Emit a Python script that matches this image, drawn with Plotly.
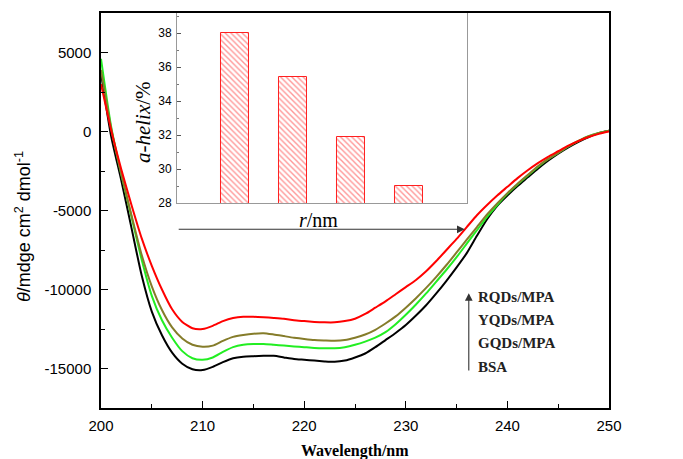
import plotly.graph_objects as go

# ---------------- data ----------------
wavelength = list(range(200, 251))

bsa = [3700, -300, -3100, -6100, -9100, -11400, -12900, -14000, -14700, -15050,
       -15100, -14900, -14600, -14350, -14250, -14220, -14200, -14200, -14300, -14400,
       -14450, -14500, -14550, -14580, -14500, -14300, -14050, -13650, -13200, -12750,
       -12250, -11650, -11000, -10250, -9450, -8600, -7700, -6600, -5550, -4700,
       -4050, -3450, -2900, -2350, -1850, -1400, -1000, -650, -350, -100, 50]

gqds = [4600, 300, -2700, -5400, -8100, -10400, -11950, -13050, -13900, -14350,
        -14450, -14300, -13950, -13650, -13500, -13450, -13450, -13500, -13550, -13600,
        -13650, -13700, -13720, -13720, -13650, -13500, -13300, -13050, -12700, -12200,
        -11600, -10950, -10250, -9500, -8750, -7950, -7100, -6250, -5400, -4650,
        -3950, -3350, -2800, -2250, -1750, -1350, -950, -600, -300, -100, 50]

yqds = [3900, 200, -2700, -5300, -7800, -9800, -11300, -12400, -13100, -13500,
        -13620, -13550, -13250, -13000, -12880, -12800, -12770, -12850, -12950, -13050,
        -13130, -13200, -13230, -13250, -13200, -13050, -12850, -12550, -12150, -11700,
        -11150, -10550, -9900, -9200, -8450, -7650, -6850, -6050, -5250, -4550,
        -3900, -3300, -2750, -2200, -1750, -1350, -950, -600, -300, -100, 50]

rqds = [3000, 100, -2400, -4650, -6750, -8500, -10000, -11250, -12050, -12450,
        -12500, -12300, -12000, -11800, -11720, -11730, -11760, -11800, -11850, -11950,
        -12000, -12050, -12080, -12080, -12000, -11850, -11550, -11150, -10750, -10300,
        -9850, -9400, -8850, -8200, -7500, -6800, -6050, -5300, -4650, -4050,
        -3500, -2950, -2450, -2000, -1600, -1250, -900, -600, -350, -150, 0]

series_names = ["BSA", "GQDs/MPA", "YQDs/MPA", "RQDs/MPA"]
series_colors = ["#000000", "#22ee22", "#857c2a", "#ff0000"]

inset_categories = ["BSA", "GQDs/MPA", "YQDs/MPA", "RQDs/MPA"]
helix_percent = [38.0, 35.4, 31.9, 29.0]

x_tickvals = [200, 210, 220, 230, 240, 250]
x_ticktext = ["200", "210", "220", "230", "240", "250"]
y_tickvals = [-15000, -10000, -5000, 0, 5000]
y_ticktext = ["-15000", "-10000", "-5000", "0", "5000"]
inset_tickvals = [28, 30, 32, 34, 36, 38]
inset_ticktext = ["28", "30", "32", "34", "36", "38"]

# ---------------- figure ----------------
fig = go.Figure()

for name, ys, col in zip(series_names, [bsa, gqds, yqds, rqds], series_colors):
    fig.add_trace(go.Scatter(
        x=wavelength, y=ys, mode="lines", name=name,
        line=dict(color=col, width=2, shape="spline", smoothing=0.6),
        xaxis="x", yaxis="y", showlegend=False))

fig.add_trace(go.Bar(
    x=list(range(len(inset_categories))), y=helix_percent,
    width=0.48, base=0,
    marker=dict(color="white",
                line=dict(color="#ff2020", width=1),
                pattern=dict(shape="\\", fgcolor="#ff3030", bgcolor="white",
                             size=4, solidity=0.35)),
    xaxis="x2", yaxis="y2", showlegend=False))

serif = "Liberation Serif, Times New Roman, serif"
sans = "Liberation Sans, Arial, sans-serif"

fig.update_layout(
    width=683, height=459,
    margin=dict(l=101, r=74, t=13, b=51, autoexpand=False),
    paper_bgcolor="white", plot_bgcolor="white",
    showlegend=False,
    bargap=0,
    xaxis=dict(
        domain=[0, 1], range=[200, 250], automargin=False,
        tickvals=x_tickvals, ticktext=x_ticktext,
        ticks="inside", ticklen=7, tickwidth=1.2, tickcolor="black",
        minor=dict(dtick=5, tick0=200, ticks="inside", ticklen=4, tickcolor="black"),
        showline=True, linecolor="black", linewidth=1.5, mirror=True,
        showgrid=False, zeroline=False,
        tickfont=dict(family=sans, size=15, color="black"),
        ticklabelstandoff=3,
    ),
    yaxis=dict(
        domain=[0, 1], range=[-17500, 7500], automargin=False,
        tickvals=y_tickvals, ticktext=y_ticktext,
        ticks="inside", ticklen=7, tickwidth=1.2, tickcolor="black",
        minor=dict(dtick=2500, tick0=0, ticks="inside", ticklen=4, tickcolor="black"),
        showline=True, linecolor="black", linewidth=1.5, mirror=True,
        showgrid=False, zeroline=False,
        tickfont=dict(family=sans, size=15, color="black"),
        ticklabelstandoff=5,
    ),
    xaxis2=dict(
        domain=[0.1496, 0.7205], range=[-1, 4], anchor="y2",
        showticklabels=False, ticks="",
        showline=True, linecolor="#999999", linewidth=1, mirror=False,
        showgrid=False, zeroline=False,
    ),
    yaxis2=dict(
        domain=[0.519, 1.0], range=[28, 39.18], anchor="x2",
        tickvals=inset_tickvals, ticktext=inset_ticktext,
        ticks="inside", ticklen=4, tickcolor="#555555",
        minor=dict(dtick=1, tick0=28, ticks="inside", ticklen=2, tickcolor="#777777"),
        showline=True, linecolor="#999999", linewidth=1, mirror=True,
        showgrid=False, zeroline=False,
        tickfont=dict(family=sans, size=12, color="black"),
        ticklabelstandoff=2,
    ),
)

# axis titles placed as annotations (positioned like the reference)
fig.add_annotation(x=0.5, y=-0.109, xref="paper", yref="paper",
                   text="<b>Wavelength/nm</b>", showarrow=False,
                   xanchor="center", yanchor="middle",
                   font=dict(family=serif, size=16, color="black"))
fig.add_annotation(x=-0.1535, y=0.458, xref="paper", yref="paper",
                   text="<i>θ</i>/mdge cm<sup>2</sup> dmol<sup>-1</sup>",
                   textangle=-90, showarrow=False, xanchor="center", yanchor="middle",
                   font=dict(family=sans, size=18, color="black"))
fig.add_annotation(x=0.0827, y=0.724, xref="paper", yref="paper",
                   text="<i>a-helix</i>/%",
                   textangle=-90, showarrow=False, xanchor="center", yanchor="middle",
                   font=dict(family=serif, size=21, color="black"))

# arrow under the inset (r/nm)
fig.add_annotation(x=235.8, y=-6190, xref="x", yref="y",
                   ax=207.5, ay=-6190, axref="x", ayref="y",
                   text="", showarrow=True, arrowhead=2, arrowsize=1.4,
                   arrowwidth=1.1, arrowcolor="#333333")
fig.add_annotation(x=221.4, y=-5620, xref="x", yref="y", text="<i>r</i>/nm",
                   showarrow=False, font=dict(family=serif, size=20, color="black"))

# vertical arrow and series labels
fig.add_annotation(x=236.2, y=-10230, xref="x", yref="y",
                   ax=236.2, ay=-15220, axref="x", ayref="y",
                   text="", showarrow=True, arrowhead=2, arrowsize=1.4,
                   arrowwidth=1.1, arrowcolor="#333333")
label_y = [-14900, -13380, -11930, -10480]
for name, ly in zip(series_names, label_y):
    fig.add_annotation(x=236.9, y=ly, xref="x", yref="y", text="<b>%s</b>" % name,
                       showarrow=False, xanchor="left",
                       font=dict(family=serif, size=15, color="#222222"))

fig.write_html("out.html")
